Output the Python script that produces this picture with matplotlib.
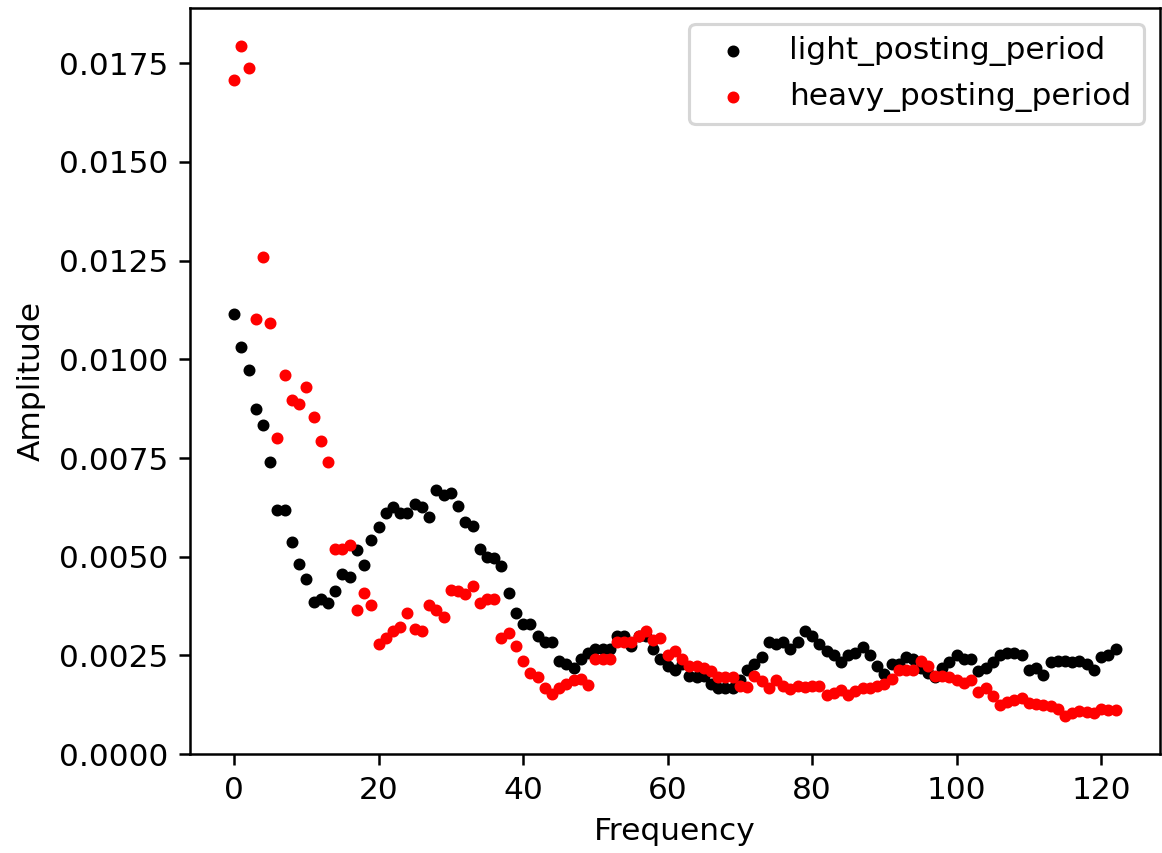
import matplotlib
matplotlib.use("Agg")
import matplotlib.pyplot as plt
import numpy as np

light_posting_period = [
    0.01116, 0.0103, 0.00973, 0.00874, 0.00833, 0.00739, 0.00619, 0.00619, 0.00537, 0.00481,
    0.00443, 0.00385, 0.00392, 0.00382, 0.00413, 0.00456, 0.00448, 0.00517, 0.00479, 0.00543,
    0.00576, 0.00611, 0.00627, 0.00611, 0.00611, 0.00634, 0.00627, 0.00601, 0.0067, 0.00657,
    0.00662, 0.00629, 0.00588, 0.00578, 0.0052, 0.00499, 0.00497, 0.00476, 0.00408, 0.00357,
    0.00329, 0.00329, 0.003, 0.00285, 0.00285, 0.00237, 0.00227, 0.00219, 0.00242, 0.00255,
    0.00265, 0.00267, 0.00267, 0.003, 0.003, 0.00273, 0.003, 0.00298, 0.00267, 0.00242,
    0.00224, 0.00214, 0.00229, 0.00199, 0.00196, 0.00199, 0.00178, 0.00168, 0.00168, 0.00168,
    0.00188, 0.00214, 0.00229, 0.00247, 0.00283, 0.00278, 0.00283, 0.00267, 0.00283, 0.00311,
    0.00298, 0.00278, 0.0026, 0.0025, 0.00232, 0.00252, 0.00257, 0.0027, 0.0025, 0.00222,
    0.00204, 0.00229, 0.00229, 0.00247, 0.0024, 0.00219, 0.00206, 0.00196, 0.00219, 0.00232,
    0.00252, 0.0024, 0.00242, 0.00211, 0.00219, 0.00232, 0.00252, 0.00257, 0.00257, 0.0025,
    0.00214, 0.00219, 0.00201, 0.00234, 0.00237, 0.00237, 0.00234, 0.00237, 0.00227, 0.00214,
    0.00247, 0.00252, 0.00265,
]

heavy_posting_period = [
    0.01707, 0.01793, 0.01737, 0.01103, 0.01258, 0.01093, 0.008, 0.0096, 0.00897, 0.00886,
    0.0093, 0.00853, 0.00792, 0.00741, 0.0052, 0.0052, 0.0053, 0.00364, 0.00408, 0.00377,
    0.0028, 0.00295, 0.00311, 0.00323, 0.00357, 0.00316, 0.00313, 0.00377, 0.00364, 0.00346,
    0.00415, 0.00413, 0.00405, 0.00425, 0.00382, 0.00392, 0.00392, 0.00295, 0.00306, 0.00275,
    0.00237, 0.00206, 0.00196, 0.00168, 0.00153, 0.00168, 0.00178, 0.00188, 0.00191, 0.00176,
    0.00242, 0.00242, 0.00242, 0.00285, 0.00285, 0.00285, 0.00298, 0.00311, 0.0029, 0.00295,
    0.0025, 0.00262, 0.00242, 0.00224, 0.00222, 0.00219, 0.00211, 0.00196, 0.00196, 0.00196,
    0.00173, 0.00171, 0.00199, 0.00186, 0.00168, 0.00188, 0.00173, 0.00166, 0.00173, 0.00171,
    0.00173, 0.00173, 0.0015, 0.00155, 0.00163, 0.0015, 0.0016, 0.00168, 0.00168, 0.00173,
    0.00178, 0.00191, 0.00214, 0.00214, 0.00214, 0.00237, 0.00222, 0.00199, 0.00199, 0.00194,
    0.00188, 0.00181, 0.00188, 0.00158, 0.00168, 0.00148, 0.00125, 0.00132, 0.00138, 0.00143,
    0.0013, 0.00127, 0.00125, 0.00122, 0.00115, 0.00097, 0.00104, 0.0011, 0.00107, 0.00104,
    0.00115, 0.00112, 0.00112,
]

frequency = np.arange(len(light_posting_period))

dpi = 225
fig = plt.figure(figsize=(1162 / dpi, 853 / dpi), dpi=dpi)
ax = fig.add_axes([0.1635, 0.116, 0.8345, 0.8746])

ax.scatter(frequency, light_posting_period, s=8, color="black", label="light_posting_period")
ax.scatter(frequency, heavy_posting_period, s=8, color="red", label="heavy_posting_period")

ax.set_ylim(0, 0.0189)
ax.set_xlabel("Frequency")
ax.set_ylabel("Amplitude")
ax.legend(loc="upper right")

fig.savefig("out.png", dpi=dpi)
